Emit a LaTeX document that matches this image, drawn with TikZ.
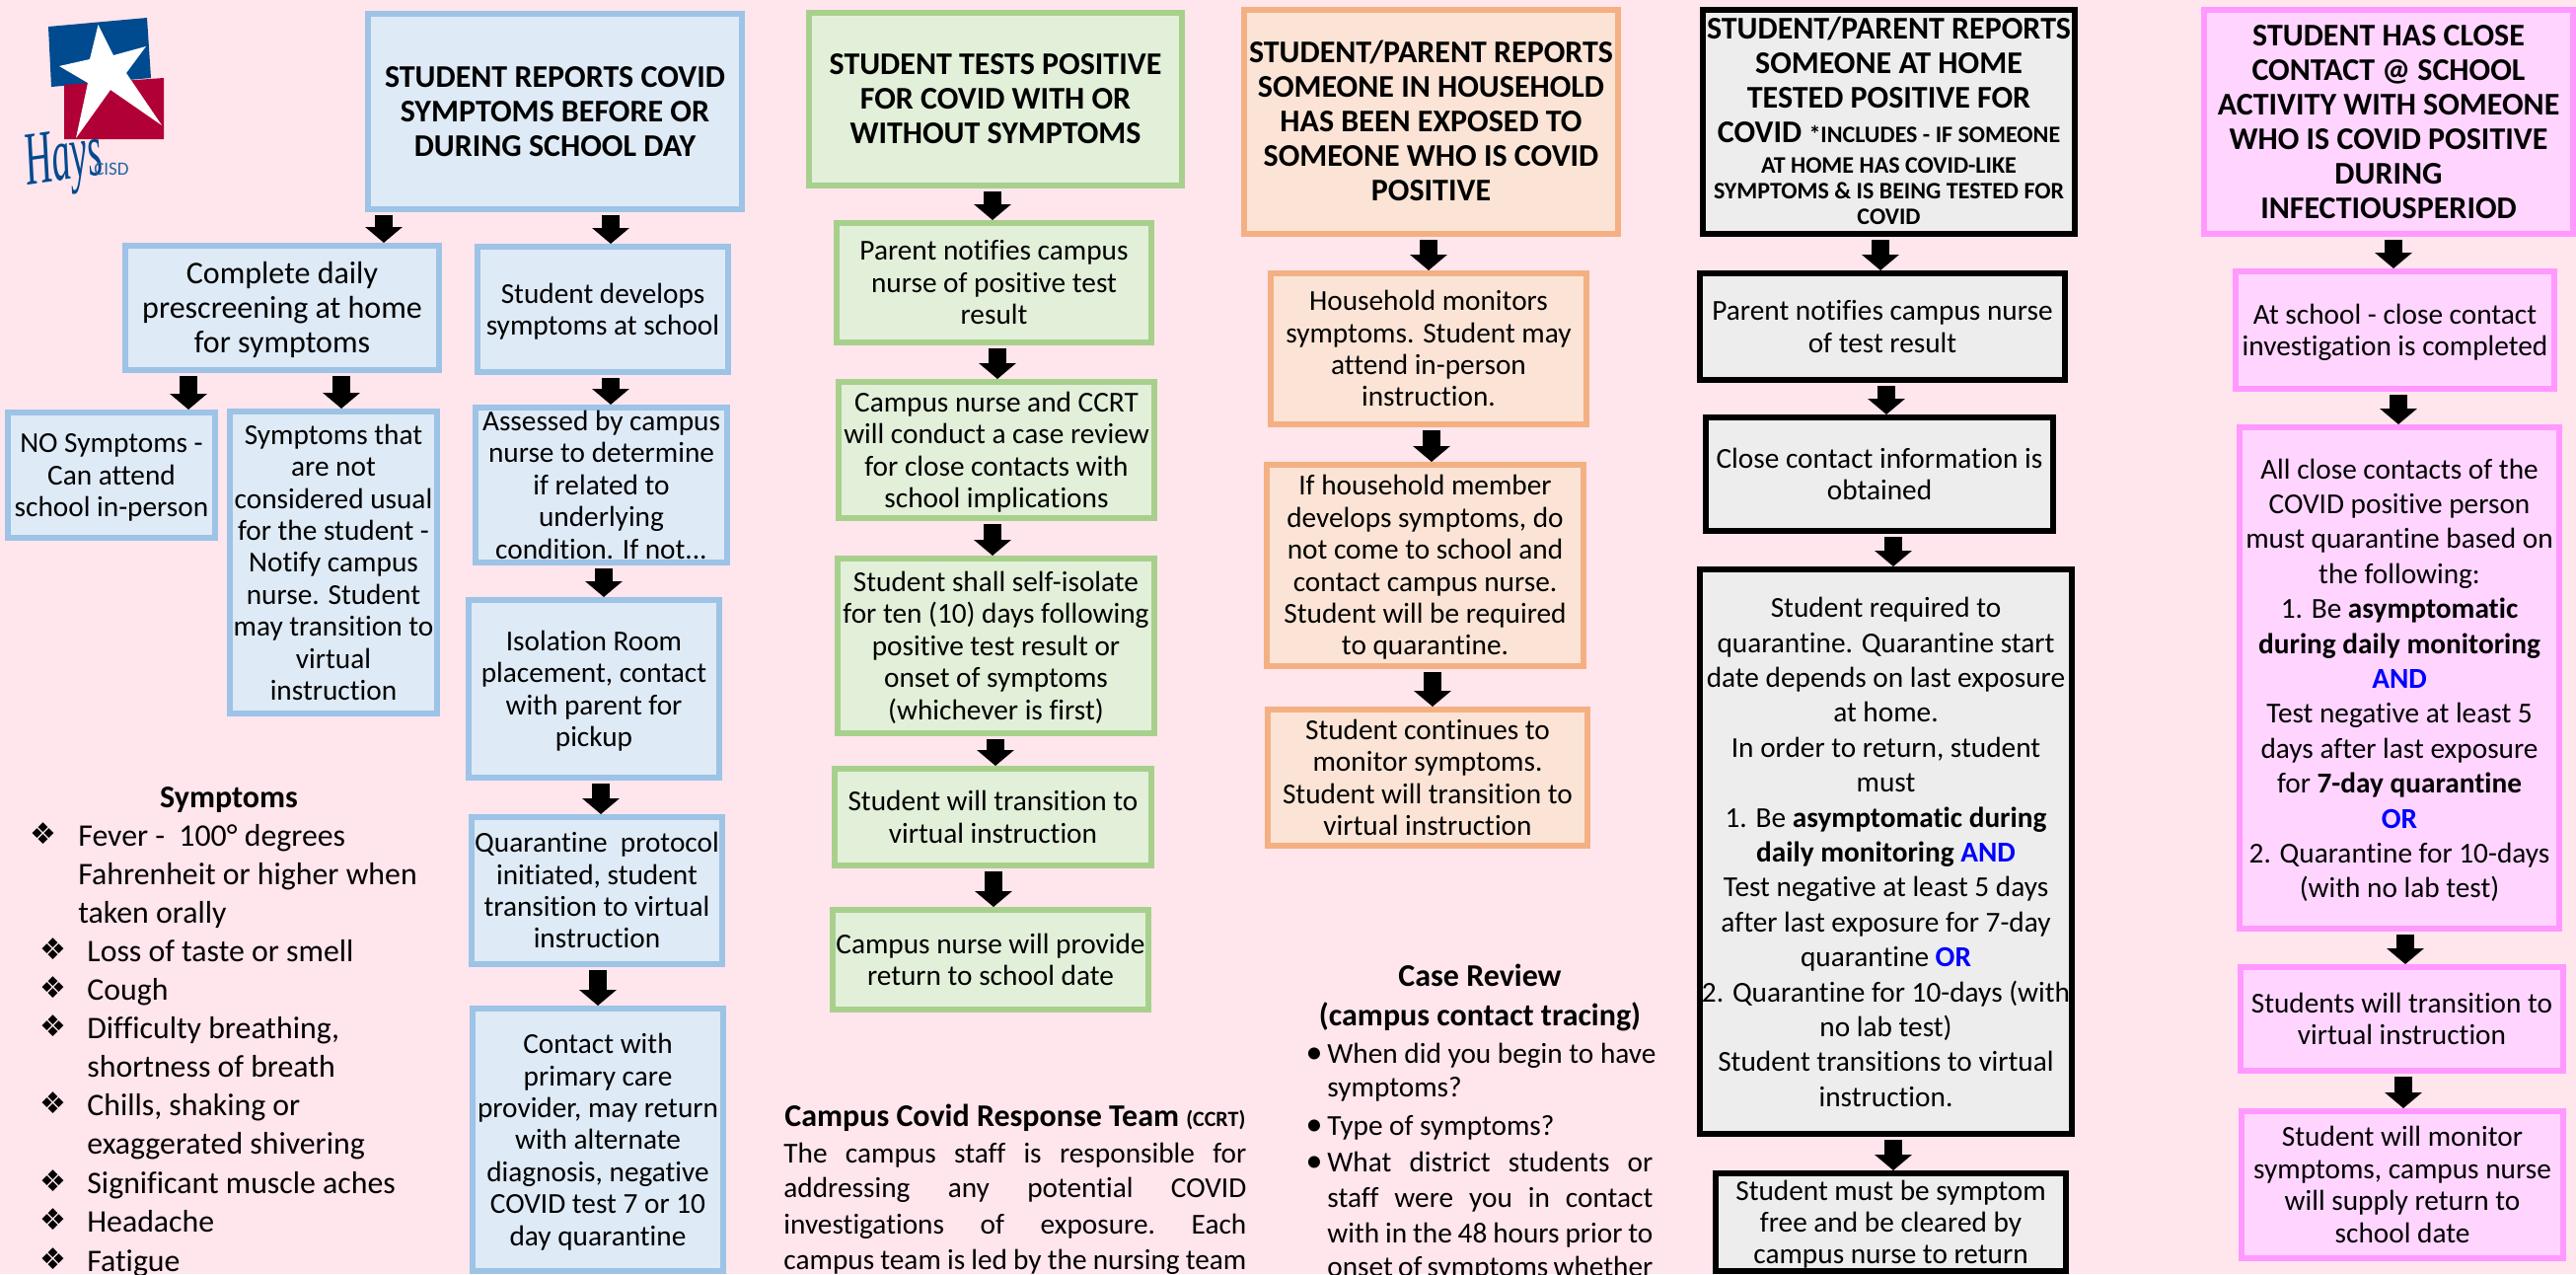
\documentclass[tikz,border=0pt]{standalone}
\usepackage{graphicx}
\usepackage{fontspec}
\setmainfont[Ligatures=NoCommon]{Carlito}
\newfontfamily\bulletfont{DejaVu Sans}
\newfontfamily\logofont{Liberation Serif}
\usetikzlibrary{arrows.meta}
\definecolor{pagebg}{HTML}{FFE5EC}
\definecolor{blueln}{HTML}{9DC3E6}\definecolor{bluefl}{HTML}{DEEAF6}
\definecolor{greenln}{HTML}{A8D08D}\definecolor{greenfl}{HTML}{E2EFD9}
\definecolor{orangeln}{HTML}{F4B083}\definecolor{orangefl}{HTML}{FBE4D5}
\definecolor{greyfl}{HTML}{EDEDED}
\definecolor{pinkln}{HTML}{FF99FF}\definecolor{pinkfl}{HTML}{FFD5FF}
\definecolor{logoblue}{HTML}{004A8F}\definecolor{logored}{HTML}{B00035}
\definecolor{andblue}{HTML}{0000FF}
\newcommand{\fs}[2]{\fontsize{#1}{#2}\selectfont}
\newcommand{\tx}[1]{\vbox to 0pt{\vss\hbox to 0pt{\hss\begin{tabular}{@{}c@{}}#1\end{tabular}\hss}\vss\kern-3.4pt}}
\newcommand{\flowbox}[7]{%
  \pgfmathsetmacro\bxw{(#5-#3-6)*.5}\pgfmathsetmacro\bxh{(#6-#4-6)*.5}%
  \node[#1,minimum width=\bxw pt,minimum height=\bxh pt] (#2) at ({(#3+#5)/2},{(#4+#6)/2}) {\tx{#7}};}
\newcommand{\flowarrow}[3]{\draw[flowarrowstyle] (#1.south -| #3,0) -- (#2.north -| #3,0);}
\newcommand{\bl}[1]{\textbf{\textcolor{andblue}{#1}}}
\tikzset{
  x=0.5pt,y=-0.5pt,
  fbox/.style={line width=3pt,inner sep=0pt,rectangle},
  body/.style={font=\fs{14.65}{16.2}},
  bodywide/.style={font=\fs{14.65}{17.7}},
  bodylarge/.style={font=\fs{16}{17.5}},
  head/.style={font=\bfseries\fs{16}{17.5}},
  blue/.style={fbox,draw=blueln,fill=bluefl},
  green/.style={fbox,draw=greenln,fill=greenfl},
  orange/.style={fbox,draw=orangeln,fill=orangefl},
  greybox/.style={fbox,draw=black,fill=greyfl},
  pink/.style={fbox,draw=pinkln,fill=pinkfl},
  flowarrowstyle/.style={line width=9pt,draw=black,-{Triangle[width=18.5pt,length=8pt]},shorten <=1.5pt},
  listtext/.style={anchor=base west,inner sep=0pt,font=\fs{15.9}{19.5}},
  bullet/.style={anchor=base,inner sep=0pt,font=\bulletfont\fs{15}{15}},
  titletext/.style={anchor=base,inner sep=0pt,font=\bfseries\fs{16}{19}},
  dottext/.style={anchor=base,inner sep=0pt,font=\fs{17}{17}},
  para/.style={anchor=base west,inner sep=0pt,font=\fs{14.65}{18}},
}
\begin{document}
\begin{tikzpicture}
\useasboundingbox (0,0) rectangle (2611,1291);
\fill[pagebg] (0,0) rectangle (2611,1291);
% logo
\fill[logoblue] (49,27) -- (149,18) -- (153,79) -- (52,88) -- cycle;
\fill[logored] (65,86) -- (166,79) -- (166,141) -- (65,141) -- cycle;
\fill[white] (99.5,25) -- (115,56) -- (148,47) -- (128,74) -- (164,127) -- (112,91) -- (77,140) -- (89,84) -- (60,67) -- (91,60) -- cycle;
\node[inner sep=0pt,text=logoblue,font=\logofont\itshape\fs{24}{24},rotate=8] (hays) at (65,165) {\scalebox{.8}[1.6]{Hays}};
\node[inner sep=0pt,text=logoblue!85,font=\fs{9.5}{10}] (cisd) at (113,171) {CISD};
% blue column
\flowbox{blue,head}{b1}{370}{11}{755}{215}{STUDENT REPORTS COVID\\SYMPTOMS BEFORE OR\\DURING SCHOOL DAY}
\flowbox{blue,bodylarge}{b2}{124}{246}{448}{378}{Complete daily\\prescreening at home\\for symptoms}
\flowbox{blue,body}{b3}{481}{247}{741}{380}{Student develops\\symptoms at school}
\flowbox{blue,body}{b4}{5}{415}{221}{548}{NO Symptoms -\\Can attend\\school in-person}
\flowbox{blue,body}{b5}{230}{414}{446}{726}{Symptoms that\\are not\\considered usual\\for the student -\\Notify campus\\nurse. Student\\may transition to\\virtual\\instruction}
\flowbox{blue,body}{b6}{479}{410}{740}{573}{Assessed by campus\\nurse to determine\\if related to\\underlying\\condition. If not...}
\flowbox{blue,body}{b7}{472}{605}{732}{791}{Isolation Room\\placement, contact\\with parent for\\pickup}
\flowbox{blue,body}{b8}{475}{825}{735}{980}{Quarantine\ \ protocol\\initiated, student\\transition to virtual\\instruction}
\flowbox{blue,body}{b9}{476}{1019}{736}{1291}{Contact with\\primary care\\provider, may return\\with alternate\\diagnosis, negative\\COVID test 7 or 10\\day quarantine}
\flowarrow{b1}{b2}{389}\flowarrow{b1}{b3}{619}
\flowarrow{b2}{b4}{191}\flowarrow{b2}{b5}{346}
\flowarrow{b3}{b6}{619}\flowarrow{b6}{b7}{612}
\flowarrow{b7}{b8}{609}\flowarrow{b8}{b9}{606}
% symptoms
\node[titletext] (symtitle) at (232,818) {Symptoms};
\node[bullet] (s1b) at (44,855) {❖};
\node[listtext] (s1) at (79,857) {Fever -\ \ 100° degrees};
\node[listtext] (s1a) at (79,896) {Fahrenheit or higher when};
\node[listtext] (s1c) at (79,935) {taken orally};
\node[bullet] (s2b) at (54,972) {❖};
\node[listtext] (s2) at (88,974) {Loss of taste or smell};
\node[bullet] (s3b) at (54,1011) {❖};
\node[listtext] (s3) at (88,1013) {Cough};
\node[bullet] (s4b) at (54,1050) {❖};
\node[listtext] (s4) at (88,1052) {Difficulty breathing,};
\node[listtext] (s4a) at (88,1091) {shortness of breath};
\node[bullet] (s5b) at (54,1128) {❖};
\node[listtext] (s5) at (88,1130) {Chills, shaking or};
\node[listtext] (s5a) at (88,1169) {exaggerated shivering};
\node[bullet] (s6b) at (54,1207) {❖};
\node[listtext] (s6) at (88,1209) {Significant muscle aches};
\node[bullet] (s7b) at (54,1246) {❖};
\node[listtext] (s7) at (88,1248) {Headache};
\node[bullet] (s8b) at (54,1286) {❖};
\node[listtext] (s8) at (88,1288) {Fatigue};
% green column
\flowbox{green,head}{g1}{817}{10}{1201}{191}{STUDENT TESTS POSITIVE\\FOR COVID WITH OR\\WITHOUT SYMPTOMS}
\flowbox{green,body}{g2}{845}{223}{1170}{350}{Parent notifies campus\\nurse of positive test\\result}
\flowbox{green,body}{g3}{847}{384}{1173}{528}{Campus nurse and CCRT\\will conduct a case review\\for close contacts with\\school implications}
\flowbox{green,body}{g4}{846}{563}{1173}{746}{Student shall self-isolate\\for ten (10) days following\\positive test result or\\onset of symptoms\\(whichever is first)}
\flowbox{green,body}{g5}{843}{776}{1170}{880}{Student will transition to\\virtual instruction}
\flowbox{green,body}{g6}{841}{919}{1167}{1026}{Campus nurse will provide\\return to school date}
\flowarrow{g1}{g2}{1006}\flowarrow{g2}{g3}{1011}\flowarrow{g3}{g4}{1006}
\flowarrow{g4}{g5}{1009}\flowarrow{g5}{g6}{1007}
% CCRT
\node[anchor=base west,inner sep=0pt,font=\bfseries\fs{16}{19}] (ccrttitle) at (795,1141) {Campus Covid Response Team {\fs{11}{12}(CCRT)}};
\node[para] (cc1) at (794,1178) {\hbox to 234.5pt{The\hfill campus\hfill staff\hfill is\hfill responsible\hfill for}};
\node[para] (cc2) at (794,1213) {\hbox to 234.5pt{addressing\hfill any\hfill potential\hfill COVID}};
\node[para] (cc3) at (794,1250) {\hbox to 234.5pt{investigations\hfill of\hfill exposure.\hfill Each}};
\node[para] (cc4) at (794,1286) {\hbox to 234.5pt{campus team is led by the nursing team}};
% orange column
\flowbox{orange,head}{o1}{1258}{7}{1643}{240}{STUDENT/PARENT REPORTS\\SOMEONE IN HOUSEHOLD\\HAS BEEN EXPOSED TO\\SOMEONE WHO IS COVID\\POSITIVE}
\flowbox{orange,body}{o2}{1285}{274}{1611}{433}{Household monitors\\symptoms. Student may\\attend in-person\\instruction.}
\flowbox{orange,body}{o3}{1281}{468}{1608}{678}{If household member\\develops symptoms, do\\not come to school and\\contact campus nurse.\\Student will be required\\to quarantine.}
\flowbox{orange,body}{o4}{1282}{716}{1612}{860}{Student continues to\\monitor symptoms.\\Student will transition to\\virtual instruction}
\flowarrow{o1}{o2}{1448}\flowarrow{o2}{o3}{1451}\flowarrow{o3}{o4}{1452}
% case review
\node[titletext] (case1) at (1500,999) {Case Review};
\node[titletext] (case2) at (1500,1039) {(campus contact tracing)};
\node[dottext] (d1) at (1332,1077) {•};
\node[dottext] (d2) at (1332,1150) {•};
\node[dottext] (d3) at (1332,1187) {•};
\node[para] (c1) at (1345,1077) {When did you begin to have};
\node[para] (c2) at (1345,1111) {symptoms?};
\node[para] (c3) at (1345,1150) {Type of symptoms?};
\node[para] (c4) at (1345,1187) {\hbox to 165pt{What\hfill district\hfill students\hfill or}};
\node[para] (c5) at (1345,1223) {\hbox to 165pt{staff\hfill were\hfill you\hfill in\hfill contact}};
\node[para] (c6) at (1345,1259) {\hbox to 165pt{with in the 48 hours prior to}};
\node[para] (c7) at (1345,1293) {\hbox to 165pt{onset of symptoms whether}};
% black column
\flowbox{greybox,head}{k1}{1723}{7}{2106}{240}{STUDENT/PARENT REPORTS\\SOMEONE AT HOME\\TESTED POSITIVE FOR\\COVID {\fs{12}{13}*INCLUDES - IF SOMEONE}\\[-2pt]{\fs{12}{13}AT HOME HAS COVID-LIKE}\\[-4.5pt]{\fs{12}{13}SYMPTOMS \& IS BEING TESTED FOR}\\[-4.5pt]{\fs{12}{13}COVID}}
\flowbox{greybox,body}{k2}{1720}{274}{2096}{388}{Parent notifies campus nurse\\of test result}
\flowbox{greybox,body}{k3}{1726}{420}{2084}{541}{Close contact information is\\obtained}
\flowbox{greybox,bodywide}{k4}{1720}{574}{2103}{1152}{Student required to\\quarantine. Quarantine start\\date depends on last exposure\\at home.\\In order to return, student\\must\\1. Be \textbf{asymptomatic during}\\\textbf{daily monitoring} \bl{AND}\\Test negative at least 5 days\\after last exposure for 7-day\\quarantine \bl{OR}\\2. Quarantine for 10-days (with\\no lab test)\\Student transitions to virtual\\instruction.}
\flowbox{greybox,body}{k5}{1736}{1186}{2097}{1291}{Student must be symptom\\free and be cleared by\\campus nurse to return}
\flowarrow{k1}{k2}{1906}\flowarrow{k2}{k3}{1912}\flowarrow{k3}{k4}{1919}\flowarrow{k4}{k5}{1919}
% pink column
\flowbox{pink,head}{p1}{2231}{7}{2611}{240}{STUDENT HAS CLOSE\\CONTACT @ SCHOOL\\ACTIVITY WITH SOMEONE\\WHO IS COVID POSITIVE\\DURING\\INFECTIOUSPERIOD}
\flowbox{pink,body}{p2}{2263}{272}{2592}{397}{At school - close contact\\investigation is completed}
\flowbox{pink,bodywide}{p3}{2267}{430}{2597}{944}{All close contacts of the\\COVID positive person\\must quarantine based on\\the following:\\1. Be \textbf{asymptomatic}\\\textbf{during daily monitoring}\\\bl{AND}\\Test negative at least 5\\days after last exposure\\for \textbf{7-day quarantine}\\\bl{OR}\\2. Quarantine for 10-days\\(with no lab test)}
\flowbox{pink,body}{p4}{2268}{977}{2601}{1088}{Students will transition to\\virtual instruction}
\flowbox{pink,body}{p5}{2269}{1123}{2601}{1278}{Student will monitor\\symptoms, campus nurse\\will supply return to\\school date}
\flowarrow{p1}{p2}{2426}\flowarrow{p2}{p3}{2431}\flowarrow{p3}{p4}{2438}\flowarrow{p4}{p5}{2436}
\end{tikzpicture}
\end{document}
